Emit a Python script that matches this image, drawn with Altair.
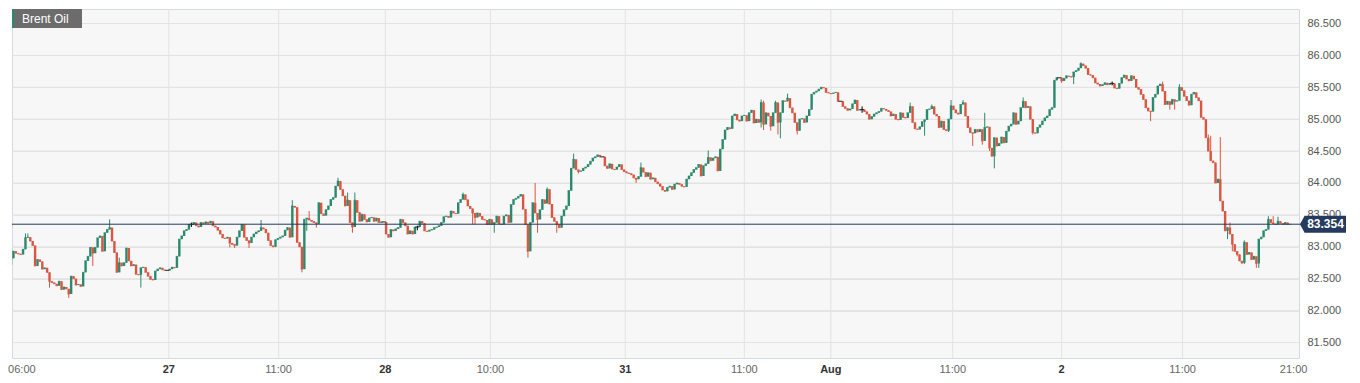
import altair as alt
import pandas as pd

# ---------------- data ----------------
first_open = 82.72
closes = [
    82.82, 82.93, 82.90, 82.89, 82.88, 82.96, 83.14, 83.15, 83.09, 83.02,
    82.70, 82.80, 82.77, 82.65, 82.67, 82.60, 82.46, 82.44, 82.42, 82.39,
    82.46, 82.33, 82.37, 82.34, 82.26, 82.54, 82.50, 82.40, 82.41, 82.38,
    82.60, 82.78, 82.85, 82.99, 82.90, 82.99, 83.14, 83.17, 82.93, 83.22,
    83.27, 83.30, 83.09, 82.91, 82.60, 82.75, 82.70, 82.75, 82.98, 82.78,
    82.70, 82.72, 82.57, 82.56, 82.67, 82.68, 82.60, 82.54, 82.49, 82.48,
    82.62, 82.65, 82.67, 82.64, 82.63, 82.63, 82.65, 82.68, 82.67, 82.85,
    83.12, 83.17, 83.25, 83.27, 83.35, 83.35, 83.38, 83.33, 83.31, 83.38,
    83.36, 83.39, 83.37, 83.40, 83.33, 83.31, 83.26, 83.20, 83.14, 83.13,
    83.15, 83.06, 83.04, 83.02, 83.15, 83.25, 83.35, 83.15, 83.10, 83.06,
    83.15, 83.20, 83.23, 83.25, 83.30, 83.28, 83.22, 83.10, 83.02, 83.00,
    83.11, 83.13, 83.15, 83.17, 83.26, 83.30, 83.15, 83.64, 83.62, 83.07,
    83.00, 82.65, 83.43, 83.45, 83.42, 83.40, 83.38, 83.36, 83.69, 83.52,
    83.49, 83.58, 83.64, 83.74, 83.77, 83.95, 84.03, 83.90, 83.80, 83.64,
    83.73, 83.38, 83.31, 83.73, 83.54, 83.40, 83.51, 83.43, 83.39, 83.45,
    83.46, 83.40, 83.45, 83.38, 83.39, 83.39, 83.20, 83.15, 83.27, 83.25,
    83.28, 83.30, 83.43, 83.38, 83.33, 83.20, 83.25, 83.20, 83.31, 83.31,
    83.40, 83.37, 83.25, 83.24, 83.26, 83.27, 83.30, 83.31, 83.33, 83.38,
    83.47, 83.48, 83.46, 83.56, 83.53, 83.52, 83.69, 83.74, 83.82, 83.74,
    83.64, 83.60, 83.53, 83.46, 83.53, 83.48, 83.43, 83.42, 83.35, 83.43,
    83.35, 83.38, 83.48, 83.36, 83.35, 83.48, 83.50, 83.38, 83.66, 83.74,
    83.76, 83.79, 83.82, 83.59, 83.35, 82.93, 83.38, 83.69, 83.53, 83.43,
    83.58, 83.74, 83.68, 83.90, 83.67, 83.46, 83.40, 83.35, 83.30, 83.48,
    83.58, 83.64, 83.88, 84.23, 84.37, 84.21, 84.18, 84.19, 84.23, 84.25,
    84.29, 84.34, 84.39, 84.41, 84.44, 84.41, 84.41, 84.27, 84.23, 84.30,
    84.22, 84.21, 84.25, 84.29, 84.21, 84.18, 84.16, 84.15, 84.13, 84.08,
    84.06, 84.10, 84.24, 84.17, 84.10, 84.16, 84.06, 84.08, 84.02, 83.99,
    83.95, 83.89, 83.87, 83.93, 83.95, 83.90, 83.98, 84.00, 83.98, 83.95,
    83.94, 84.06, 84.11, 84.16, 84.21, 84.24, 84.29, 84.11, 84.27, 84.30,
    84.40, 84.35, 84.39, 84.41, 84.19, 84.53, 84.68, 84.83, 84.87, 84.85,
    85.05, 85.08, 84.99, 84.97, 85.05, 85.06, 84.97, 85.10, 85.14, 84.94,
    85.00, 84.95, 85.26, 84.92, 85.10, 85.05, 84.89, 85.10, 85.26, 84.95,
    85.10, 85.29, 85.28, 85.33, 85.18, 85.10, 84.95, 84.82, 85.00, 85.01,
    84.95, 85.05, 85.15, 85.39, 85.42, 85.44, 85.47, 85.50, 85.49, 85.42,
    85.41, 85.40, 85.41, 85.42, 85.28, 85.28, 85.20, 85.17, 85.14, 85.16,
    85.24, 85.30, 85.14, 85.15, 85.15, 85.12, 85.08, 85.00, 85.04, 85.08,
    85.10, 85.12, 85.17, 85.16, 85.14, 85.12, 85.05, 85.08, 85.00, 84.99,
    85.10, 85.03, 85.02, 85.10, 85.20, 84.95, 84.85, 84.84, 84.88, 84.96,
    84.99, 85.15, 85.16, 85.20, 85.08, 85.05, 84.87, 84.97, 84.84, 84.82,
    85.00, 85.21, 85.15, 85.10, 85.08, 85.23, 85.26, 85.05, 84.87, 84.79,
    84.78, 84.84, 84.80, 84.84, 84.66, 84.87, 84.88, 84.55, 84.42, 84.71,
    84.58, 84.62, 84.72, 84.63, 84.81, 84.89, 84.92, 85.10, 84.92, 84.97,
    85.18, 85.28, 85.18, 85.20, 85.00, 84.79, 84.78, 84.87, 84.91, 84.97,
    85.02, 85.05, 85.15, 85.18, 85.61, 85.65, 85.65, 85.60, 85.64, 85.68,
    85.67, 85.66, 85.74, 85.76, 85.80, 85.87, 85.84, 85.80, 85.70, 85.69,
    85.65, 85.57, 85.55, 85.52, 85.54, 85.57, 85.54, 85.56, 85.56, 85.49,
    85.48, 85.56, 85.65, 85.69, 85.63, 85.60, 85.68, 85.63, 85.50, 85.47,
    85.39, 85.31, 85.18, 85.13, 85.12, 85.34, 85.39, 85.52, 85.55, 85.44,
    85.23, 85.28, 85.23, 85.31, 85.28, 85.29, 85.50, 85.45, 85.36, 85.29,
    85.22, 85.39, 85.42, 85.34, 85.29, 85.03, 85.00, 84.71, 84.50, 84.35,
    84.32, 84.00, 84.06, 83.72, 83.56, 83.25, 83.30, 83.20, 83.04, 82.93,
    82.88, 82.78, 82.75, 83.07, 82.88, 82.91, 82.80, 82.85, 82.74, 83.12,
    83.15, 83.25, 83.27, 83.43, 83.38, 83.36, 83.35, 83.40, 83.37, 83.35,
    83.38, 83.35, 83.354,
]

# notable upper / lower wicks (candle index -> price)
wick_high = {6: 83.21, 7: 83.21, 41: 83.43, 45: 82.83, 75: 83.38, 104: 83.42,
             117: 83.73, 124: 83.56, 136: 84.08, 140: 83.85, 143: 83.85,
             169: 83.33, 188: 83.85, 218: 84.00, 223: 83.93, 234: 84.46,
             262: 84.32, 290: 84.51, 312: 85.31, 313: 85.29, 318: 85.29,
             323: 85.40, 354: 85.20, 374: 85.26, 383: 85.23, 391: 85.30,
             396: 85.30, 405: 85.10, 421: 85.34, 445: 85.89, 458: 85.59,
             479: 85.59, 486: 85.55, 498: 84.76, 499: 84.74, 503: 84.72,
             507: 83.38, 513: 83.10, 523: 83.48, 525: 83.48, 527: 83.47}
wick_low = {16: 82.36, 24: 82.20, 34: 82.70, 54: 82.36, 75: 83.31, 91: 82.99,
            93: 82.98, 99: 82.98, 121: 82.60, 123: 83.25, 127: 83.30,
            142: 83.22, 169: 83.26, 192: 83.35, 193: 83.35, 201: 83.22,
            215: 82.83, 219: 83.22, 227: 83.22, 236: 84.15, 260: 84.00,
            312: 84.87, 313: 84.83, 316: 84.82, 319: 84.76, 320: 84.70,
            327: 84.76, 354: 85.10, 380: 84.74, 390: 84.80, 400: 84.58,
            404: 84.60, 407: 84.50, 409: 84.23, 425: 84.76, 437: 85.57,
            442: 85.55, 458: 85.53, 474: 84.97, 482: 85.15, 484: 85.15,
            506: 83.12, 508: 82.93, 510: 82.85, 512: 82.73, 513: 82.73,
            518: 82.67, 519: 82.67}

# bottom axis labels and the candle index they sit at
tick_labels = ["06:00", "27", "11:00", "28", "10:00", "31", "11:00", "Aug",
               "11:00", "2", "11:00", "21:00"]
tick_index = [4.5, 65.6, 111.3, 155.7, 199.4, 255.5, 305, 341, 391.7, 437,
              487.3, 533.5]
tick_is_day = [False, True, False, True, False, True, False, True, False,
               True, False, False]

y_ticks = [81.5, 82.0, 82.5, 83.0, 83.5, 84.0, 84.5, 85.0, 85.5, 86.0, 86.5]
instrument = "Brent Oil"

# ---------------- build table ----------------
rows = []
prev = first_open
for i, c in enumerate(closes):
    o = prev
    hi = max(o, c, wick_high.get(i, c))
    lo = min(o, c, wick_low.get(i, c))
    d = "up" if c > o else ("down" if c < o else "flat")
    rows.append({"i": i, "open": o, "close": c, "high": hi, "low": lo, "dir": d})
    prev = c
df = pd.DataFrame(rows)
last_df = pd.DataFrame({"price": [closes[-1]], "txt": [f"{closes[-1]:.3f}"]})
ticks_df = pd.DataFrame({"pos": tick_index, "label": tick_labels, "day": tick_is_day})
title_df = pd.DataFrame({"label": [instrument]})
ygrid_df = pd.DataFrame({"p": y_ticks})

# ---------------- layout ----------------
PLOT_W = 1287
PLOT_H = 349
FONT = "Liberation Sans"
GREEN = "#2b8a6d"
RED = "#da5641"
NAVY = "#243a5e"
GRID = "#e3e3e3"

px_per_bar = (1291 - 2) / (len(closes) - 1)
x0 = (8 - 2) / px_per_bar
xscale = alt.Scale(domain=[x0, x0 + PLOT_W / px_per_bar], nice=False, zero=False)
yscale = alt.Scale(domain=[81.257, 86.727], nice=False, zero=False)
color = alt.Color("dir:N", scale=alt.Scale(domain=["up", "down", "flat"],
                                           range=[GREEN, RED, "#000000"]),
                  legend=None)

yaxis = alt.Axis(orient="right", values=y_ticks, format=".3f", title=None,
                 grid=True, gridColor=GRID, domain=False, ticks=False,
                 labelPadding=8, labelColor="#555555", labelFontSize=11,
                 labelFont=FONT)


def Y(field):
    return alt.Y(field, scale=yscale, axis=yaxis)


def X(field):
    return alt.X(field, scale=xscale, axis=None)


base = alt.Chart(df)

ygrid = alt.Chart(ygrid_df).mark_rule(color=GRID, strokeWidth=1).encode(
    y=Y("p:Q"), x=alt.value(0), x2=alt.value(PLOT_W))

vgrid = alt.Chart(ticks_df).transform_filter(
    (alt.datum.label != "06:00") & (alt.datum.label != "21:00")
).mark_rule(color=GRID, strokeWidth=1).encode(
    x=X("pos:Q"), y=alt.value(0), y2=alt.value(PLOT_H))

wicks = base.mark_rule(strokeWidth=1, clip=True).encode(
    x=X("i:Q"), y=Y("low:Q"), y2="high:Q", color=color)

bodies = base.mark_bar(size=2.4, clip=True).encode(
    x=X("i:Q"), y=Y("open:Q"), y2="close:Q", color=color)

caps = base.transform_filter(alt.datum.dir != "flat").mark_tick(
    orient="horizontal", size=2.4, thickness=1, clip=True).encode(
    x=X("i:Q"), y=Y("close:Q"), color=color)

dojis = base.transform_filter(alt.datum.dir == "flat").mark_tick(
    orient="horizontal", size=4, thickness=1.2, clip=True, color="#000000").encode(
    x=X("i:Q"), y=Y("close:Q"))

price_line = alt.Chart(last_df).mark_rule(color=NAVY, strokeWidth=1).encode(
    y=Y("price:Q"), x=alt.value(0), x2=alt.value(PLOT_W + 4))

tag = alt.Chart(last_df).mark_point(
    shape="M-1,0L-0.8,-0.37L1,-0.37L1,0.37L-0.8,0.37Z",
    size=46 * 46, filled=True, fill=NAVY, opacity=1, strokeWidth=0).encode(
    y=Y("price:Q"), x=alt.value(PLOT_W + 24))

tag_text = alt.Chart(last_df).mark_text(
    color="white", font=FONT, fontSize=12, fontWeight="bold",
    align="center", baseline="middle").encode(
    y=Y("price:Q"), x=alt.value(PLOT_W + 26.5), text="txt:N")

xlab_reg = alt.Chart(ticks_df).transform_filter(~alt.datum.day).mark_text(
    font=FONT, fontSize=11, color="#666666", align="center",
    baseline="middle").encode(
    x=X("pos:Q"), y=alt.value(PLOT_H + 12), text="label:N")
xlab_day = alt.Chart(ticks_df).transform_filter(alt.datum.day).mark_text(
    font=FONT, fontSize=11, color="#333333", fontWeight="bold",
    align="center", baseline="middle").encode(
    x=X("pos:Q"), y=alt.value(PLOT_H + 12), text="label:N")

box = alt.Chart(title_df).mark_rect(color="#676767", opacity=0.97).encode(
    x=alt.value(0), x2=alt.value(70), y=alt.value(0), y2=alt.value(19))
stripe = alt.Chart(title_df).mark_rect(color=GREEN).encode(
    x=alt.value(0), x2=alt.value(2), y=alt.value(0), y2=alt.value(19))
box_text = alt.Chart(title_df).mark_text(
    color="white", font=FONT, fontSize=12, align="left",
    baseline="middle").encode(x=alt.value(10), y=alt.value(10), text="label:N")

chart = alt.layer(
    ygrid, vgrid, wicks, bodies, caps, dojis, price_line, tag, tag_text,
    xlab_reg, xlab_day, box, stripe, box_text
).properties(
    width=PLOT_W, height=PLOT_H, padding=0, background="white"
).configure_view(
    fill="#f7f7f7", stroke="#d6dae8", strokeWidth=1
)

chart.save("out.html", embed_options={"renderer": "svg", "actions": False})
